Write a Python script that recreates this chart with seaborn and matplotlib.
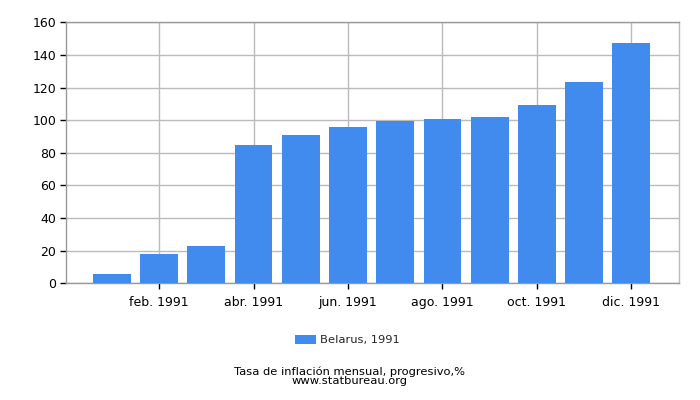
import matplotlib
matplotlib.use("Agg")
import matplotlib.pyplot as plt
import seaborn as sns
import pandas as pd

# values
months = ["ene. 1991", "feb. 1991", "mar. 1991", "abr. 1991", "may. 1991", "jun. 1991",
          "jul. 1991", "ago. 1991", "sep. 1991", "oct. 1991", "nov. 1991", "dic. 1991"]
inflation = [5.7, 18.0, 22.9, 84.8, 90.9, 95.8, 99.5, 100.7, 101.9, 109.3, 123.4, 147.3]
series_label = "Belarus, 1991"
caption = "Tasa de inflación mensual, progresivo,%"
source = "www.statbureau.org"

bar_color = "#418bee"

sns.set_theme(style="white")
plt.rcParams["font.family"] = ["DejaVu Sans"]

df = pd.DataFrame({"month": months, "value": inflation})

fig = plt.figure(figsize=(7, 4), dpi=100)
ax = fig.add_axes([0.094, 0.292, 0.876, 0.652])

sns.barplot(data=df, x="month", y="value", color=bar_color, saturation=1,
            width=0.8, linewidth=0, ax=ax, label=series_label, zorder=3)

ax.set_xlim(-0.975, 12.01)
ax.set_ylim(0, 160)
ax.set_yticks(range(0, 161, 20))
ax.set_xticks(range(1, 12, 2))
ax.set_xticklabels(months[1::2])
ax.set_xlabel("")
ax.set_ylabel("")

ax.grid(True, color="#bbbbbb", linewidth=1, zorder=0)
ax.set_axisbelow(True)
for side in ["left", "bottom", "top", "right"]:
    ax.spines[side].set_visible(True)
    ax.spines[side].set_linewidth(1)
ax.spines["left"].set_color("#999999")
ax.spines["bottom"].set_color("#999999")
ax.spines["top"].set_color("#999999")
ax.spines["right"].set_color("#bbbbbb")

ax.tick_params(axis="both", which="both", length=4, width=1, color="black",
               labelsize=9, labelcolor="black", direction="out")
ax.tick_params(axis="x", bottom=True, pad=5)
ax.tick_params(axis="y", left=True, pad=3)

# legend sits centred under the figure, at about x=347px
leg_x = (347.5 - 0.094 * 700) / (0.876 * 700)
leg_y = (400 - 340 - 0.292 * 400) / (0.652 * 400)
leg = ax.legend(loc="center", bbox_to_anchor=(leg_x, leg_y),
                frameon=False, fontsize=8.25, handlelength=1.83, handleheight=0.79,
                handletextpad=0.35, borderpad=0, borderaxespad=0)

fig.text(0.5, 1 - 376.5 / 400, caption + "\n" + source, ha="center", va="center",
         fontsize=8.25, linespacing=0.85, color="black")

fig.savefig("out.png", dpi=100, facecolor="white")
